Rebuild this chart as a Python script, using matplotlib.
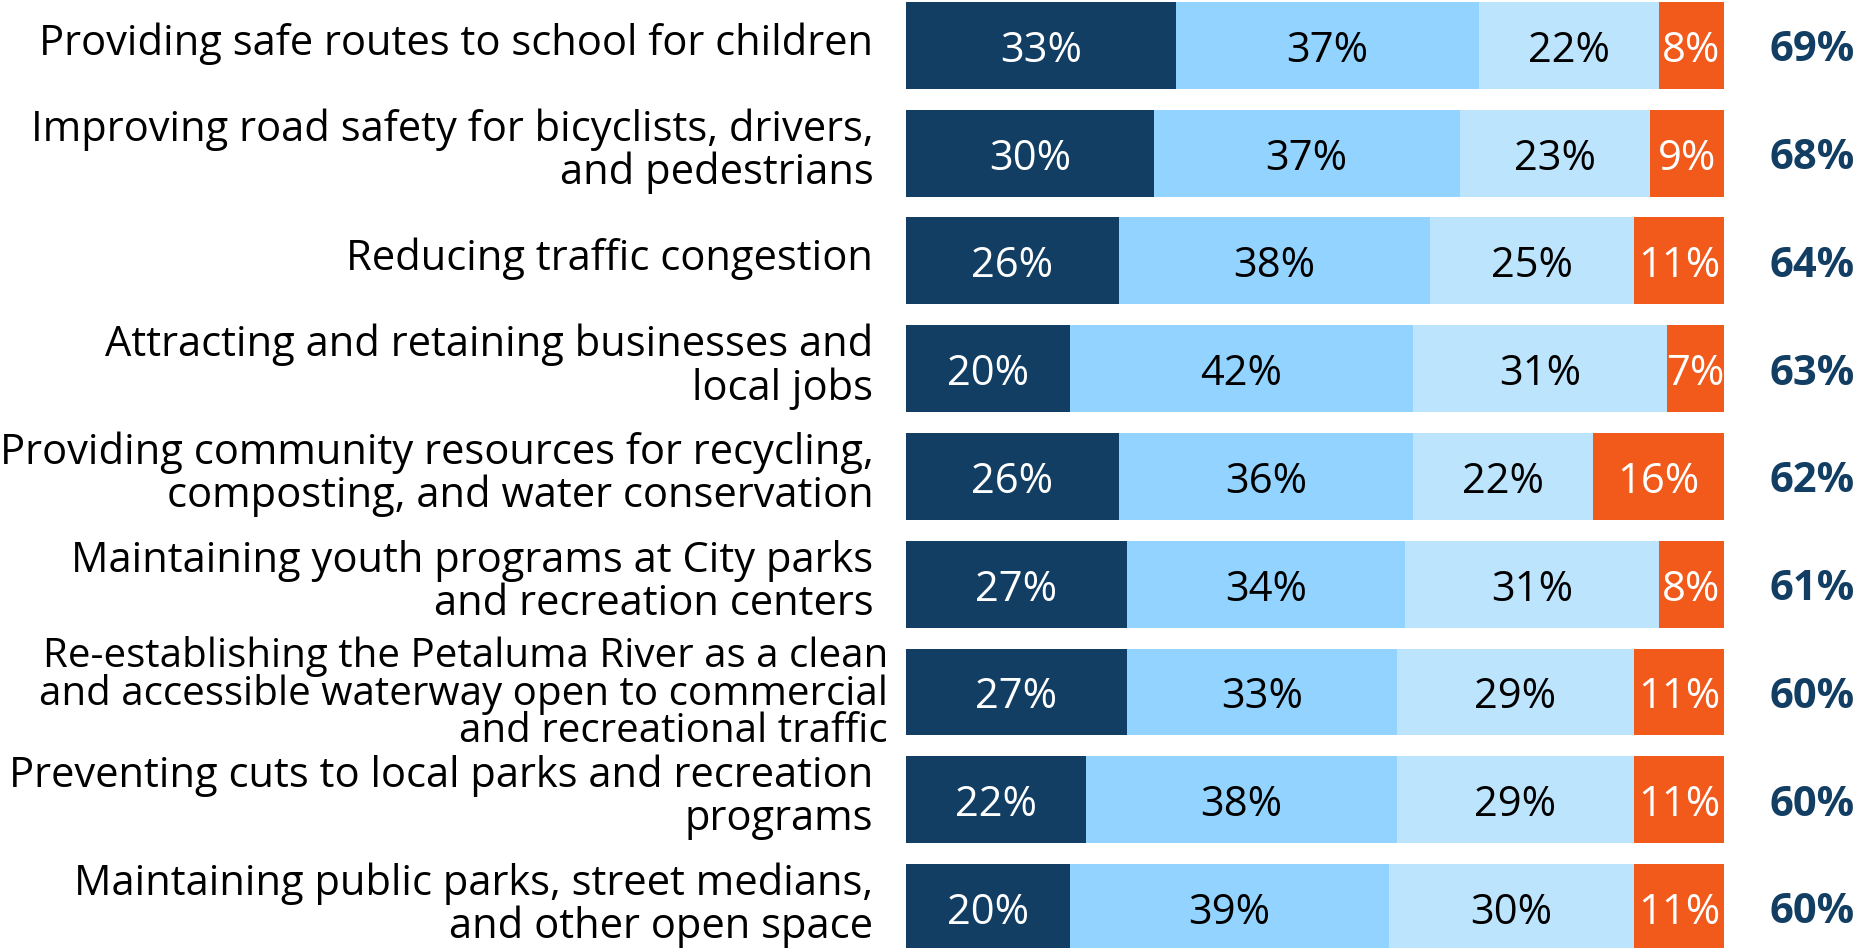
import numpy as np
import matplotlib.pyplot as plt

# libellés des catégories (de haut en bas)
categories = [
    "Providing safe routes to school for children",
    "Improving road safety for bicyclists, drivers,\nand pedestrians",
    "Reducing traffic congestion",
    "Attracting and retaining businesses and\nlocal jobs",
    "Providing community resources for recycling,\ncomposting, and water conservation",
    "Maintaining youth programs at City parks\nand recreation centers",
    "Re-establishing the Petaluma River as a clean\nand accessible waterway open to commercial\nand recreational traffic",
    "Preventing cuts to local parks and recreation\nprograms",
    "Maintaining public parks, street medians,\nand other open space",
]

# valeurs des segments (en %)
extremely = [33, 30, 26, 20, 26, 27, 27, 22, 20]
very = [37, 37, 38, 42, 36, 34, 33, 38, 39]
somewhat = [22, 23, 25, 31, 22, 31, 29, 29, 30]
not_imp = [8, 9, 11, 7, 16, 8, 11, 11, 11]
totals = [69, 68, 64, 63, 62, 61, 60, 60, 60]

couleurs = ["#123E63", "#92D3FF", "#BDE4FD", "#F15A1B"]
couleurs_texte = ["white", "black", "black", "white"]

police = ["Open Sans", "DejaVu Sans"]

fig = plt.figure(figsize=(18.76, 9.48), dpi=100)
ax = fig.add_axes([906 / 1876, 0, 818 / 1876, 1])

series = np.array([extremely, very, somewhat, not_imp], dtype=float)
# chaque ligne ramenée à 100 %
largeurs = series / series.sum(axis=0) * 100

y = np.arange(len(categories))
gauche = np.zeros(len(categories))
for k in range(4):
    ax.barh(y, largeurs[k], left=gauche, height=0.807, color=couleurs[k])
    for i in range(len(categories)):
        ax.text(gauche[i] + largeurs[k][i] / 2, y[i] + 0.05, f"{int(series[k][i])}%",
                ha="center", va="center", color=couleurs_texte[k],
                fontsize=30, family=police)
    gauche += largeurs[k]

for i, lab in enumerate(categories):
    nb = lab.count("\n") + 1
    if nb == 3:
        # le libellé sur trois lignes est plus serré et déborde un peu à droite
        ecart, decal, xpos, taille = 0.9, 0.02, -2.2, 29
    else:
        ecart, decal, xpos, taille = 1.03, -0.02, -4, 30
    ax.text(xpos, y[i] + decal, lab, ha="right", va="center", fontsize=taille,
            family=police, linespacing=ecart, clip_on=False)
    ax.text(110.8, y[i] + 0.05, f"{totals[i]}%", ha="center", va="center",
            fontsize=30, fontweight="bold", color="#123E63",
            family=police, clip_on=False)

ax.set_xlim(0, 100)
ax.set_ylim(8.376, -0.422)
ax.axis("off")

fig.savefig("out.png", dpi=100)
